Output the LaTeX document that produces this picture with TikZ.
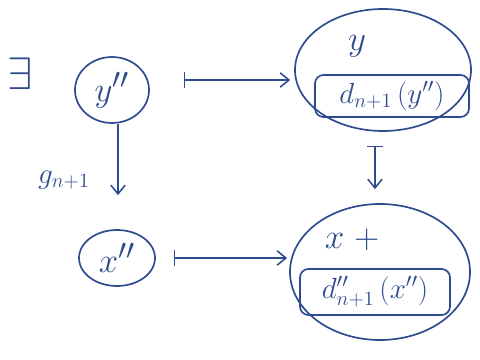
\documentclass[tikz,border=0pt]{standalone}
\usepackage{xcolor}
\usepackage{tikz}
\usetikzlibrary{
  arrows.meta,
  positioning,
  shapes.geometric
}
\definecolor{ink}{HTML}{2F4B8F}

\begin{document}
\begin{tikzpicture}[
  x=0.25mm, y=-0.25mm,
  every node/.style={text=ink, font=\Huge},
  small/.style={
    draw=ink, ellipse, line width=1.2pt, inner sep=0pt,
  },
  big/.style={
    draw=ink, ellipse, line width=1.2pt, inner sep=0pt,
    minimum width=44mm,
  },
  tag/.style={
    draw=ink, rounded corners=6pt, line width=1.2pt, inner sep=0pt,
    minimum height=10.5mm, font=\huge,
  },
  arrow/.style={-{Straight Barb[length=2.2mm, width=3.6mm]}, draw=ink, line width=1.1pt},
  maps/.style={{Bar[width=3.8mm]}-{Straight Barb[length=2.2mm, width=3.6mm]}, draw=ink, line width=1.1pt},
]
\useasboundingbox (0,0) rectangle (480,360);

\node[scale=1.3] (ex) at (20,74) {$\exists$};
\node[small, minimum width=18.5mm, minimum height=16.5mm] (yb) at (112,90) {$y''$};
\node[small, minimum width=19mm, minimum height=14mm] (xb) at (117,258) {$x''$};

% right-hand sets
\node[big, minimum height=30.5mm] (ytop) at (383,70) {};
\node (ylab) at (357,46) {$y$};
\node[tag, minimum width=38.5mm] (dy) at (392,96) {$d_{n+1}\,(y'')$};

\node[big, minimum width=45mm, minimum height=34mm] (xtop) at (380,272) {};
\node (xlab) at (352,240) {$x\;+$};
\node[tag, minimum width=37.5mm, minimum height=11.5mm] (dx) at (375,292) {$d''_{n+1}\,(x'')$};

\draw[maps, shorten <=8.5mm, shorten >=1mm] ([yshift=2.5mm]yb.east) -- ([yshift=2.5mm]yb.east -| ytop.west);
\draw[maps, shorten <=4.5mm, shorten >=0.5mm] (xb.east) -- (xb.east -| xtop.west);
\draw[arrow, shorten >=8.5mm] ([xshift=1.5mm]yb.south) -- ([xshift=1.5mm]yb.south |- xb.north);
\draw[maps, shorten <=3.5mm, shorten >=3.5mm] ([xshift=-2mm]ytop.south) -- ([xshift=-2mm]ytop.south |- xtop.north);

\node[font=\huge] (g) at (64,180) {$g_{n+1}$};

\end{tikzpicture}
\end{document}
